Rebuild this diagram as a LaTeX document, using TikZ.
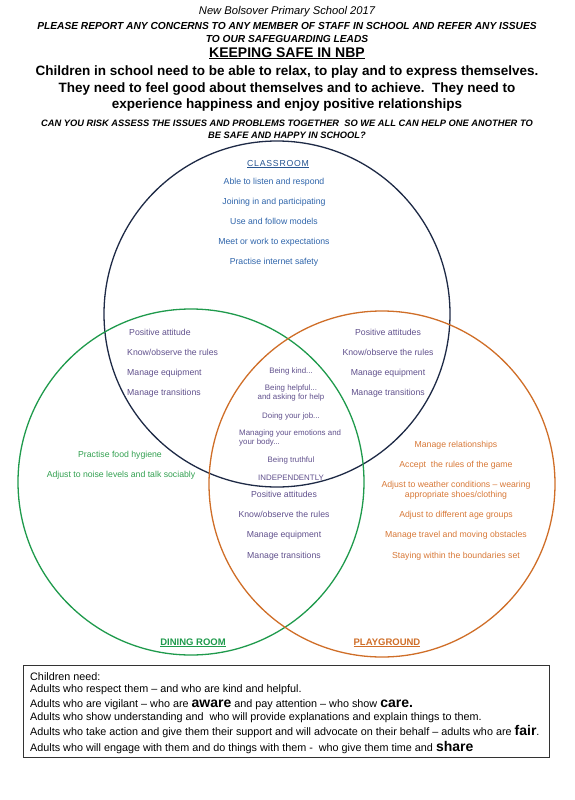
\documentclass[tikz,border=0pt]{standalone}
\usepackage{fontspec}
\setmainfont{Liberation Sans}
\usepackage{xcolor}
\usepackage{tikz}
\usetikzlibrary{positioning}
\definecolor{navyring}{RGB}{30,42,70}
\definecolor{greenring}{RGB}{31,154,76}
\definecolor{orangering}{RGB}{207,110,40}
\definecolor{clsblue}{RGB}{46,100,170}
\definecolor{sharedpurple}{RGB}{96,80,140}
\definecolor{dinegreen}{RGB}{50,160,80}
\definecolor{playorange}{RGB}{215,120,55}
\newcommand{\emword}[1]{{\fontsize{14}{14}\selectfont\bfseries #1}}

\begin{document}
\begin{tikzpicture}[x=1pt,y=-1pt,
  ring/.style={circle,draw,line width=1.3pt,minimum size=346pt,inner sep=0pt},
  txt/.style={anchor=base,inner sep=0pt,font=\fontsize{8.7}{10}\selectfont},
  small/.style={txt,text=sharedpurple,font=\fontsize{7.9}{9}\selectfont},
  needline/.style={anchor=base west,inner sep=0pt,font=\fontsize{10.8}{12}\selectfont}]
\useasboundingbox (0,0) rectangle (574,800);
\node[txt,font=\fontsize{11.2}{13}\itshape] (school) at (287,15) {New Bolsover Primary School 2017};
\node[inner sep=0pt,align=center,font=\fontsize{10.2}{13}\bfseries\itshape] (report) at (287,32) {PLEASE REPORT ANY CONCERNS TO ANY MEMBER OF STAFF IN SCHOOL AND REFER ANY ISSUES\\TO OUR SAFEGUARDING LEADS};
\node[txt,font=\fontsize{14}{16}\bfseries] (title) at (287,57) {\underline{KEEPING SAFE IN NBP}};
\node[inner sep=0pt,align=center,font=\fontsize{13.5}{16.5}\bfseries] (needs) at (287,89) {Children in school need to be able to relax, to play and to express themselves.\\They need to feel good about themselves and to achieve.\ \ They need to\\experience happiness and enjoy positive relationships};
\node[inner sep=0pt,align=center,font=\fontsize{9.3}{12}\bfseries\itshape] (askus) at (287,129) {CAN YOU RISK ASSESS THE ISSUES AND PROBLEMS TOGETHER\ \ SO WE ALL CAN HELP ONE ANOTHER TO\\BE SAFE AND HAPPY IN SCHOOL?};

\node[ring,navyring] (classroom) at (277,314) {};
\node[ring,greenring] (dining) at (191,482) {};
\node[ring,orangering] (playground) at (382,484) {};

\node[txt,text=clsblue!85!black] (cltitle) at (278,166) {\addfontfeatures{LetterSpace=9}\underline{CLASSROOM}};
\node[txt,text=clsblue] (cl1) at (274,184) {Able to listen and respond};
\node[txt,text=clsblue] (cl2) at (274,204) {Joining in and participating};
\node[txt,text=clsblue] (cl3) at (274,224) {Use and follow models};
\node[txt,text=clsblue] (cl4) at (274,244) {Meet or work to expectations};
\node[txt,text=clsblue] (cl5) at (274,264) {Practise internet safety};

\node[txt,anchor=base west,text=sharedpurple] (cd1) at (129,335) {Positive attitude};
\node[txt,anchor=base west,text=sharedpurple] (cd2) at (127,355) {Know/observe the rules};
\node[txt,anchor=base west,text=sharedpurple] (cd3) at (127,375) {Manage equipment};
\node[txt,anchor=base west,text=sharedpurple] (cd4) at (127,395) {Manage transitions};

\node[txt,text=sharedpurple] (cp1) at (388,335) {Positive attitudes};
\node[txt,text=sharedpurple] (cp2) at (388,355) {Know/observe the rules};
\node[txt,text=sharedpurple] (cp3) at (388,375) {Manage equipment};
\node[txt,text=sharedpurple] (cp4) at (388,395) {Manage transitions};

\node[small] (all1) at (291,373) {Being kind...};
\node[small,anchor=center,align=center] (all2) at (291,393) {Being helpful...\\and asking for help};
\node[small] (all3) at (291,418) {Doing your job...};
\node[small,anchor=west,align=left] (all4) at (239,438) {Managing your emotions and\\your body...};
\node[small] (all5) at (291,462) {Being truthful};
\node[small] (all6) at (291,480) {INDEPENDENTLY};

\node[txt,text=sharedpurple] (dp1) at (284,497) {Positive attitudes};
\node[txt,text=sharedpurple] (dp2) at (284,517) {Know/observe the rules};
\node[txt,text=sharedpurple] (dp3) at (284,537) {Manage equipment};
\node[txt,text=sharedpurple] (dp4) at (284,558) {Manage transitions};

\node[txt,text=dinegreen] (dn1) at (120,457) {Practise food hygiene};
\node[txt,text=dinegreen] (dn2) at (121,477) {Adjust to noise levels and talk sociably};

\node[txt,text=playorange] (pl1) at (456,447) {Manage relationships};
\node[txt,text=playorange] (pl2) at (456,467) {Accept\ \ the rules of the game};
\node[txt,text=playorange,anchor=center,align=center] (pl3) at (456,490) {Adjust to weather conditions -- wearing\\appropriate shoes/clothing};
\node[txt,text=playorange] (pl4) at (456,517) {Adjust to different age groups};
\node[txt,text=playorange] (pl5) at (456,537) {Manage travel and moving obstacles};
\node[txt,text=playorange] (pl6) at (456,558) {Staying within the boundaries set};

\node[txt,text=greenring,font=\fontsize{9.5}{11}\bfseries] (dinelabel) at (193,645) {\underline{DINING ROOM}};
\node[txt,text=orangering,font=\fontsize{9.5}{11}\bfseries] (playlabel) at (387,645) {\underline{PLAYGROUND}};

\node[draw=black!80,line width=0.9pt,minimum width=526pt,minimum height=92pt,inner sep=0pt] (needbox) at (286,711) {};
\node[needline] (n0) at (30,680) {Children need:};
\node[needline] (n1) at (30,692) {Adults who respect them -- and who are kind and helpful.};
\node[needline] (n2) at (30,707) {Adults who are vigilant -- who are \emword{aware} and pay attention -- who show \emword{care.}};
\node[needline] (n3) at (30,720) {Adults who show understanding and\ \ who will provide explanations and explain things to them.};
\node[needline] (n4) at (30,735) {Adults who take action and give them their support and will advocate on their behalf -- adults who are \emword{fair}.};
\node[needline] (n5) at (30,751) {Adults who will engage with them and do things with them -\ \ who give them time and \emword{share}};
\end{tikzpicture}
\end{document}
